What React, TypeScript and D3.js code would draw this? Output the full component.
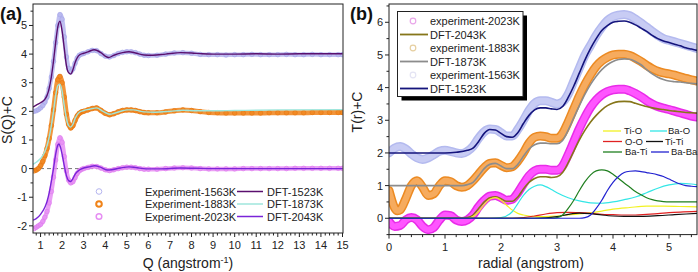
import React from 'react';
import * as d3 from 'd3';

type P = [number, number];

// ---------- Panel (a): S(Q)+C ----------
const qMajor = d3.range(1, 16);
const sMajor = [-2, -1, 0, 1, 2, 3, 4, 5];

const exp1563: P[] = [[0.7,2.0],[0.8,2.02],[0.9,2.06],[1.0,2.12],[1.1,2.2],[1.2,2.32],[1.3,2.5],[1.4,2.8],[1.5,3.2],[1.6,3.75],[1.7,4.4],[1.8,5.0],[1.9,5.38],[2.0,5.22],[2.1,4.6],[2.2,3.9],[2.3,3.5],[2.4,3.38],[2.5,3.48],[2.6,3.68],[2.7,3.86],[2.8,3.96],[2.9,4.0],[3.0,4.02],
[3.2,4.08],[3.4,4.13],[3.6,4.12],[3.8,4.02],[4.0,3.93],[4.2,3.9],[4.4,3.95],[4.6,4.02],[4.8,4.06],[5.0,4.08],[5.2,4.08],[5.4,4.05],[5.6,4.0],[5.8,3.96],[6.0,3.95],
[6.4,3.96],[6.8,4.0],[7.2,4.04],[7.6,4.05],[8.0,4.03],[8.4,3.99],[8.8,3.98],[9.2,3.98],[9.6,3.97],[10.0,3.98],[10.4,3.98],[10.8,3.99],[11.2,3.98],[11.6,3.98],[12.0,3.98],[12.4,3.99],[12.8,3.98],[13.2,3.98],[13.6,3.99],[14.0,3.98],[14.4,3.98],[14.8,3.98],[15.0,3.98]];
const dft1523: P[] = [[0.65,2.15],[0.8,2.22],[1.0,2.3],[1.2,2.42],[1.3,2.55],[1.4,2.8],[1.5,3.2],[1.6,3.75],[1.7,4.4],[1.8,4.95],[1.9,5.15],[2.0,4.8],[2.1,4.2],[2.2,3.6],[2.3,3.35],[2.4,3.3],[2.5,3.45],[2.6,3.7],[2.8,3.97],[3.0,4.03],[3.2,4.08],[3.5,4.15],[3.8,4.05],[4.0,3.93],[4.15,3.88],[4.4,3.96],[4.8,4.05],[5.1,4.08],[5.4,4.04],[5.8,3.97],[6.2,3.96],[6.8,4.0],[7.5,4.05],[8.0,4.04],[8.5,4.01],[9.0,4.0],[10.0,4.0],[11.0,4.01],[12.0,4.0],[13.0,4.01],[14.0,4.01],[15.0,4.01]];

const exp1883: P[] = [[0.7,-0.08],[0.8,-0.05],[0.9,0.0],[1.0,0.1],[1.1,0.25],[1.2,0.45],[1.3,0.7],[1.4,1.05],[1.5,1.5],[1.6,2.05],[1.7,2.65],[1.8,3.1],[1.9,3.22],[2.0,3.0],[2.1,2.5],[2.2,1.9],[2.3,1.55],[2.4,1.42],[2.5,1.5],[2.6,1.68],[2.7,1.84],[2.8,1.93],[2.9,1.98],[3.0,2.0],
[3.2,2.05],[3.4,2.1],[3.6,2.12],[3.8,2.03],[4.0,1.93],[4.2,1.88],[4.4,1.92],[4.6,1.98],[4.8,2.03],[5.0,2.05],[5.2,2.05],[5.4,2.03],[5.6,1.99],[5.8,1.96],[6.0,1.95],
[6.4,1.95],[6.8,1.98],[7.2,2.02],[7.6,2.05],[8.0,2.03],[8.4,1.99],[8.8,1.96],[9.2,1.95],[9.6,1.94],[10.0,1.94],[10.4,1.94],[10.8,1.94],[11.2,1.94],[11.6,1.95],[12.0,1.95],[12.4,1.95],[12.8,1.95],[13.2,1.95],[13.6,1.96],[14.0,1.96],[14.4,1.96],[14.8,1.96],[15.0,1.96]];
const dft1873: P[] = [[0.65,0.15],[0.8,0.22],[1.0,0.35],[1.1,0.45],[1.2,0.6],[1.3,0.8],[1.4,1.1],[1.5,1.5],[1.6,2.0],[1.7,2.55],[1.8,2.9],[1.9,2.95],[2.0,2.7],[2.1,2.2],[2.2,1.75],[2.3,1.5],[2.4,1.45],[2.5,1.55],[2.6,1.75],[2.8,1.97],[3.0,2.03],[3.3,2.08],[3.6,2.12],[3.9,2.0],[4.2,1.9],[4.5,1.95],[5.0,2.05],[5.3,2.05],[5.8,1.98],[6.3,1.97],[7.0,2.0],[7.6,2.04],[8.2,2.02],[9.0,2.02],[10.0,2.03],[12.0,2.05],[15.0,2.06]];

const exp2023: P[] = [[0.7,-2.1],[0.8,-2.05],[0.9,-2.0],[1.0,-1.95],[1.1,-1.85],[1.2,-1.7],[1.3,-1.5],[1.4,-1.2],[1.5,-0.8],[1.6,-0.3],[1.7,0.3],[1.8,0.85],[1.9,1.08],[2.0,0.92],[2.1,0.42],[2.2,-0.08],[2.3,-0.4],[2.4,-0.5],[2.5,-0.46],[2.6,-0.32],[2.7,-0.17],[2.8,-0.08],[2.9,-0.03],[3.0,0.0],
[3.2,0.04],[3.4,0.08],[3.6,0.07],[3.8,0.02],[4.0,-0.04],[4.2,-0.07],[4.4,-0.04],[4.6,0.0],[4.8,0.03],[5.0,0.05],[5.2,0.05],[5.4,0.03],[5.6,0.0],[5.8,-0.02],[6.0,-0.02],
[6.4,-0.02],[6.8,0.0],[7.2,0.02],[7.6,0.03],[8.0,0.02],[8.4,0.0],[8.8,-0.01],[9.2,-0.01],[9.6,-0.01],[10.0,-0.01],[10.4,0.0],[10.8,0.0],[11.2,0.0],[11.6,0.0],[12.0,0.0],[12.4,0.0],[12.8,0.01],[13.2,0.01],[13.6,0.01],[14.0,0.01],[14.4,0.01],[14.8,0.01],[15.0,0.01]];
const dft2043: P[] = [[0.65,-1.8],[0.8,-1.75],[1.0,-1.6],[1.2,-1.35],[1.3,-1.15],[1.4,-0.85],[1.5,-0.45],[1.6,0.0],[1.7,0.5],[1.8,0.82],[1.85,0.86],[1.9,0.8],[2.0,0.5],[2.1,0.1],[2.2,-0.25],[2.3,-0.42],[2.4,-0.45],[2.5,-0.35],[2.6,-0.2],[2.8,-0.05],[3.0,0.02],[3.3,0.07],[3.5,0.1],[3.8,0.04],[4.1,-0.05],[4.3,-0.04],[4.7,0.02],[5.1,0.06],[5.4,0.04],[5.9,-0.01],[6.5,-0.01],[7.5,0.02],[8.2,0.01],[9.0,0.0],[15.0,0.0]];

// ---------- Panel (b): T(r)+C ----------
const rMajor = [0, 1, 2, 3, 4, 5];
const tMajor = [0, 1, 2, 3, 4, 5, 6];

const tExp1563: P[] = [[0,2.0],[0.1,2.15],[0.2,2.2],[0.3,2.12],[0.4,1.97],[0.5,1.85],[0.6,1.8],[0.7,1.85],[0.8,1.95],[0.9,2.05],[1.0,2.08],[1.1,2.05],[1.2,2.0],[1.3,1.98],[1.4,2.05],[1.5,2.2],[1.6,2.45],[1.7,2.65],[1.8,2.73],[1.9,2.72],[2.0,2.62],[2.1,2.52],[2.2,2.52],[2.3,2.72],[2.4,3.0],[2.5,3.3],[2.6,3.52],[2.7,3.6],[2.8,3.6],[2.9,3.55],[3.0,3.5],[3.1,3.56],[3.2,3.8],[3.3,4.2],[3.4,4.6],[3.5,5.0],[3.6,5.3],[3.7,5.6],[3.8,5.85],[3.9,6.05],[4.0,6.17],[4.1,6.22],[4.2,6.24],[4.3,6.2],[4.4,6.1],[4.5,5.98],[4.6,5.85],[4.7,5.72],[4.8,5.6],[4.9,5.5],[5.0,5.45],[5.1,5.4],[5.2,5.35],[5.3,5.3],[5.4,5.25],[5.5,5.2]];
const tDft1523: P[] = [[0,2.0],[0.5,2.0],[1.0,2.0],[1.2,2.02],[1.4,2.08],[1.5,2.15],[1.6,2.35],[1.7,2.6],[1.8,2.72],[1.9,2.7],[2.0,2.6],[2.1,2.5],[2.2,2.48],[2.3,2.62],[2.4,2.9],[2.5,3.15],[2.6,3.32],[2.7,3.38],[2.8,3.38],[2.9,3.35],[3.0,3.33],[3.1,3.42],[3.2,3.7],[3.3,4.05],[3.4,4.45],[3.5,4.85],[3.6,5.2],[3.7,5.5],[3.8,5.75],[3.9,5.9],[4.0,6.0],[4.1,6.03],[4.2,6.04],[4.3,6.0],[4.4,5.92],[4.5,5.82],[4.6,5.72],[4.7,5.6],[4.8,5.5],[4.9,5.43],[5.0,5.38],[5.1,5.33],[5.2,5.28],[5.3,5.22],[5.4,5.18],[5.5,5.14]];
const tExp1883: P[] = [[0,0.85],[0.05,0.55],[0.1,0.32],[0.15,0.23],[0.2,0.26],[0.3,0.6],[0.4,1.0],[0.5,1.15],[0.6,0.95],[0.7,0.7],[0.8,0.75],[0.9,1.0],[1.0,1.15],[1.1,1.12],[1.2,1.0],[1.3,0.95],[1.4,1.0],[1.5,1.15],[1.6,1.35],[1.7,1.55],[1.8,1.68],[1.9,1.7],[2.0,1.62],[2.1,1.55],[2.2,1.58],[2.3,1.75],[2.4,2.0],[2.5,2.3],[2.6,2.48],[2.7,2.52],[2.8,2.5],[2.9,2.45],[3.0,2.45],[3.1,2.6],[3.2,2.95],[3.3,3.35],[3.4,3.75],[3.5,4.1],[3.6,4.4],[3.7,4.65],[3.8,4.82],[3.9,4.93],[4.0,5.0],[4.1,5.02],[4.2,5.02],[4.3,4.98],[4.4,4.9],[4.5,4.8],[4.6,4.68],[4.7,4.58],[4.8,4.5],[4.9,4.45],[5.0,4.42],[5.1,4.38],[5.2,4.33],[5.3,4.28],[5.4,4.24],[5.5,4.2]];
const tDft1873: P[] = [[0,1.0],[1.0,1.0],[1.3,1.0],[1.4,1.03],[1.5,1.1],[1.6,1.3],[1.7,1.52],[1.8,1.65],[1.9,1.68],[2.0,1.6],[2.1,1.52],[2.2,1.52],[2.3,1.65],[2.4,1.9],[2.5,2.12],[2.6,2.25],[2.7,2.3],[2.8,2.3],[2.9,2.28],[3.0,2.28],[3.1,2.38],[3.2,2.7],[3.3,3.08],[3.4,3.45],[3.5,3.8],[3.6,4.1],[3.7,4.35],[3.8,4.55],[3.9,4.7],[4.0,4.8],[4.1,4.86],[4.2,4.88],[4.3,4.87],[4.4,4.8],[4.5,4.7],[4.6,4.55],[4.7,4.42],[4.8,4.32],[4.9,4.25],[5.0,4.2],[5.1,4.18],[5.2,4.17],[5.3,4.15],[5.4,4.13],[5.5,4.12]];
const tExp2023: P[] = [[0,-0.1],[0.1,-0.25],[0.2,-0.22],[0.3,-0.05],[0.4,0.02],[0.5,-0.05],[0.6,-0.25],[0.7,-0.35],[0.8,-0.28],[0.9,-0.05],[1.0,0.1],[1.1,0.08],[1.2,-0.05],[1.3,-0.1],[1.4,-0.05],[1.5,0.1],[1.6,0.35],[1.7,0.55],[1.8,0.68],[1.9,0.7],[2.0,0.63],[2.1,0.55],[2.2,0.58],[2.3,0.78],[2.4,1.05],[2.5,1.3],[2.6,1.45],[2.7,1.5],[2.8,1.5],[2.9,1.47],[3.0,1.47],[3.1,1.6],[3.2,1.95],[3.3,2.35],[3.4,2.75],[3.5,3.1],[3.6,3.4],[3.7,3.62],[3.8,3.78],[3.9,3.88],[4.0,3.93],[4.1,3.95],[4.2,3.95],[4.3,3.9],[4.4,3.82],[4.5,3.72],[4.6,3.6],[4.7,3.5],[4.8,3.42],[4.9,3.37],[5.0,3.33],[5.1,3.28],[5.2,3.23],[5.3,3.18],[5.4,3.13],[5.5,3.1]];
const tDft2043: P[] = [[0,0.0],[1.3,0.0],[1.4,0.02],[1.5,0.1],[1.6,0.3],[1.7,0.5],[1.8,0.63],[1.9,0.66],[2.0,0.6],[2.1,0.52],[2.2,0.52],[2.3,0.65],[2.4,0.9],[2.5,1.1],[2.6,1.22],[2.7,1.27],[2.8,1.27],[2.9,1.25],[3.0,1.27],[3.1,1.4],[3.2,1.7],[3.3,2.05],[3.4,2.4],[3.5,2.7],[3.6,2.95],[3.7,3.15],[3.8,3.32],[3.9,3.45],[4.0,3.53],[4.1,3.57],[4.2,3.58],[4.3,3.57],[4.4,3.52],[4.5,3.47],[4.6,3.42],[4.7,3.38],[4.8,3.35],[4.9,3.33],[5.0,3.3],[5.1,3.28],[5.2,3.26],[5.3,3.24],[5.4,3.23],[5.5,3.22]];

const pTiO: P[] = [[0,0],[1.4,0],[1.5,0.05],[1.6,0.2],[1.7,0.42],[1.8,0.58],[1.9,0.63],[2.0,0.55],[2.1,0.4],[2.2,0.25],[2.3,0.15],[2.4,0.1],[2.5,0.07],[2.6,0.06],[2.8,0.05],[3.0,0.07],[3.2,0.1],[3.5,0.15],[3.8,0.22],[4.0,0.28],[4.3,0.33],[4.6,0.37],[4.9,0.37],[5.2,0.36],[5.5,0.35]];
const pBaO: P[] = [[0,0],[1.8,0],[2.0,0.02],[2.2,0.2],[2.3,0.45],[2.4,0.7],[2.5,0.88],[2.6,0.98],[2.7,1.02],[2.8,0.97],[2.9,0.88],[3.0,0.78],[3.2,0.63],[3.4,0.53],[3.6,0.47],[3.8,0.46],[4.0,0.5],[4.2,0.57],[4.4,0.65],[4.6,0.78],[4.8,0.92],[5.0,1.02],[5.2,1.07],[5.4,1.05],[5.5,1.02]];
const pOO: P[] = [[0,0],[2.2,0],[2.4,0.02],[2.6,0.07],[2.8,0.13],[3.0,0.17],[3.2,0.18],[3.4,0.17],[3.6,0.15],[3.8,0.12],[4.0,0.11],[4.2,0.1],[4.4,0.1],[4.6,0.12],[4.8,0.14],[5.0,0.17],[5.2,0.19],[5.5,0.21]];
const pTiTi: P[] = [[0,0],[2.6,0],[2.8,0.01],[3.0,0.05],[3.2,0.12],[3.4,0.16],[3.6,0.14],[3.8,0.1],[4.0,0.07],[4.2,0.06],[4.5,0.06],[4.8,0.08],[5.1,0.11],[5.5,0.15]];
const pBaTi: P[] = [[0,0],[2.9,0],[3.0,0.02],[3.1,0.1],[3.2,0.3],[3.3,0.55],[3.4,0.85],[3.5,1.12],[3.6,1.33],[3.7,1.45],[3.8,1.48],[3.9,1.45],[4.0,1.35],[4.1,1.22],[4.2,1.08],[4.3,0.95],[4.4,0.82],[4.5,0.72],[4.6,0.63],[4.7,0.57],[4.8,0.53],[4.9,0.51],[5.0,0.5],[5.2,0.5],[5.5,0.5]];
const pBaBa: P[] = [[0,0],[3.4,0],[3.5,0.02],[3.6,0.1],[3.7,0.3],[3.8,0.55],[3.9,0.85],[4.0,1.1],[4.1,1.28],[4.2,1.4],[4.3,1.44],[4.4,1.45],[4.5,1.43],[4.6,1.4],[4.7,1.37],[4.8,1.33],[4.9,1.28],[5.0,1.2],[5.1,1.12],[5.2,1.05],[5.3,1.0],[5.4,0.98],[5.5,0.97]];

const FONT = "'Liberation Sans', Arial, sans-serif";

function App() {
  const ax = d3.scaleLinear().domain([0.65, 15]).range([33, 342.5]);
  const ay = d3.scaleLinear().domain([-2.25, 5.75]).range([233, 4]);
  const bx = d3.scaleLinear().domain([0, 5.5]).range([389, 697]);
  const by = d3.scaleLinear().domain([-0.5, 6.56]).range([234.6, 4]);

  const lineA = d3.line<P>().x(d => ax(d[0])).y(d => ay(d[1])).curve(d3.curveMonotoneX);
  const lineB = d3.line<P>().x(d => bx(d[0])).y(d => by(d[1])).curve(d3.curveMonotoneX);

  const aBottom = ay.range()[0];
  const bBottom = by.range()[0];

  const qMinor = d3.range(0.8, 15.01, 0.2).filter(v => Math.abs(v - Math.round(v)) > 0.01);
  const sMinor = d3.range(-2, 5.6, 0.5).filter(v => Math.abs(v - Math.round(v)) > 0.01);
  const rMinor = d3.range(0.2, 5.5, 0.2).filter(v => Math.abs(v - Math.round(v)) > 0.01);
  const tMinor = d3.range(-0.5, 6.6, 0.5).filter(v => Math.abs(v - Math.round(v)) > 0.01);

  const expA = [
    { d: exp1563, c: '#b5b5ef', e: '#a4a4ea', w: 4.5 },
    { d: exp1883, c: '#f08318', e: '#e67510', w: 5 },
    { d: exp2023, c: '#e68ef3', e: '#de7cef', w: 4.5 },
  ];
  const dftA = [
    { d: dft1523, c: '#5a0f6e' },
    { d: dft1873, c: '#9fe6dc' },
    { d: dft2043, c: '#7a24d8' },
  ];

  const legA = [
    { t1: 'Experiment-1563K', c1: '#b5b5ef', t2: 'DFT-1523K', c2: '#5a0f6e', sw: 1 },
    { t1: 'Experiment-1883K', c1: '#f08318', t2: 'DFT-1873K', c2: '#9fe6dc', sw: 2 },
    { t1: 'Experiment-2023K', c1: '#e68ef3', t2: 'DFT-2043K', c2: '#7a24d8', sw: 1.5 },
  ];

  const bandsB = [
    { d: tExp1563, edge: '#b4baef', fill: '#c8ccf4' },
    { d: tExp1883, edge: '#ec8a22', fill: '#f6ab5e' },
    { d: tExp2023, edge: '#e82ce8', fill: '#ff55ff' },
  ];
  const dftB = [
    { d: tDft1523, c: '#14147c' },
    { d: tDft1873, c: '#8c8c8c' },
    { d: tDft2043, c: '#86761a' },
  ];
  const partials = [
    { d: pTiO, c: '#f2f222', n: 'Ti-O' },
    { d: pBaO, c: '#33e6e6', n: 'Ba-O' },
    { d: pOO, c: '#e02222', n: 'O-O' },
    { d: pTiTi, c: '#111111', n: 'Ti-Ti' },
    { d: pBaTi, c: '#1f7f1f', n: 'Ba-Ti' },
    { d: pBaBa, c: '#2222d0', n: 'Ba-Ba' },
  ];
  const partLeg = [
    { x1: 603, x2: 621, tx: 624, y: 131, p: 0 },
    { x1: 650, x2: 667, tx: 668, y: 131, p: 1 },
    { x1: 603, x2: 622, tx: 625, y: 141.5, p: 2 },
    { x1: 646, x2: 663, tx: 665, y: 141.5, p: 3 },
    { x1: 603, x2: 622, tx: 625, y: 152, p: 4 },
    { x1: 651, x2: 669, tx: 671, y: 152, p: 5 },
  ];
  const legB = [
    { t: 'experiment-2023K', kind: 'c', c: '#e9a6e9' },
    { t: 'DFT-2043K', kind: 'l', c: '#86761a' },
    { t: 'experiment-1883K', kind: 'c', c: '#e6cfa0' },
    { t: 'DFT-1873K', kind: 'l', c: '#8c8c8c' },
    { t: 'experiment-1563K', kind: 'c', c: '#e4e4f4' },
    { t: 'DFT-1523K', kind: 'l', c: '#14147c' },
  ];

  return (
    <svg width={698} height={272} style={{ position: 'absolute', left: 0, top: 0, background: '#fff' }} fontFamily={FONT}>
      <rect x={0} y={0} width={698} height={272} fill="#fff" />
      {/* ================= Panel a ================= */}
      <clipPath id="clipA"><rect x={33} y={4} width={310} height={229} /></clipPath>
      <g clipPath="url(#clipA)">
        <line x1={33} x2={343} y1={ay(0)} y2={ay(0)} stroke="#777" strokeDasharray="4,3" strokeWidth={1} />
        {expA.map((s, i) => (
          <g key={i}>
            <path d={lineA(s.d) || ''} fill="none" stroke={s.c} strokeWidth={s.w} strokeOpacity={0.85} />
            {s.d.map((p, j) => (
              <circle key={j} cx={ax(p[0])} cy={ay(p[1])} r={2.3} fill={s.c} fillOpacity={0.6} stroke={s.e} strokeWidth={0.6} />
            ))}
          </g>
        ))}
        {dftA.map((s, i) => (
          <path key={i} d={lineA(s.d) || ''} fill="none" stroke={s.c} strokeWidth={1.4} />
        ))}
      </g>
      <rect x={33} y={4} width={310} height={aBottom - 4} fill="none" stroke="#222" strokeWidth={1} />
      {qMajor.map(v => (
        <g key={v}>
          <line x1={ax(v)} x2={ax(v)} y1={aBottom} y2={aBottom + 4} stroke="#222" />
          <text x={ax(v)} y={249} fontSize={11} textAnchor="middle" fill="#222">{v}</text>
        </g>
      ))}
      {qMinor.map((v, i) => (
        <line key={i} x1={ax(v)} x2={ax(v)} y1={aBottom} y2={aBottom + 2.5} stroke="#222" />
      ))}
      {sMajor.map(v => (
        <g key={v}>
          <line x1={33} x2={29} y1={ay(v)} y2={ay(v)} stroke="#222" />
          <text x={27} y={ay(v) + 4} fontSize={11} textAnchor="end" fill="#222">{String(v)}</text>
        </g>
      ))}
      {sMinor.map((v, i) => (
        <line key={i} x1={33} x2={30.5} y1={ay(v)} y2={ay(v)} stroke="#222" />
      ))}
      <text x={188} y={268} fontSize={14} textAnchor="middle" fill="#222">
        Q (angstrom<tspan dy={-5} fontSize={9}>-1</tspan><tspan dy={5}>)</tspan>
      </text>
      <text transform={`translate(12,120) rotate(-90)`} fontSize={14} textAnchor="middle" fill="#222">S(Q)+C</text>
      <text x={0} y={20} fontSize={18} fontWeight="bold" fill="#111">(a)</text>
      {legA.map((l, i) => {
        const y = 191.5 + i * 12.5;
        return (
          <g key={i}>
            <circle cx={99} cy={y} r={2.8} fill="none" stroke={l.c1} strokeWidth={l.sw} />
            <text x={145} y={y + 4} fontSize={11} fill="#222">{l.t1}</text>
            <line x1={237} x2={263} y1={y} y2={y} stroke={l.c2} strokeWidth={1.5} />
            <text x={267} y={y + 4} fontSize={11} fill="#222">{l.t2}</text>
          </g>
        );
      })}

      {/* ================= Panel b ================= */}
      <clipPath id="clipB"><rect x={389} y={4} width={308} height={bBottom - 4} /></clipPath>
      <g clipPath="url(#clipB)">
        {bandsB.map((s, i) => (
          <g key={i}>
            <path d={lineB(s.d) || ''} fill="none" stroke={s.edge} strokeWidth={9} strokeLinecap="round" />
            <path d={lineB(s.d) || ''} fill="none" stroke={s.fill} strokeWidth={6} strokeLinecap="round" />
          </g>
        ))}
        {dftB.map((s, i) => (
          <path key={i} d={lineB(s.d) || ''} fill="none" stroke={s.c} strokeWidth={1.6} />
        ))}
        {partials.map((s, i) => (
          <path key={i} d={lineB(s.d) || ''} fill="none" stroke={s.c} strokeWidth={1.2} />
        ))}
      </g>
      <rect x={389} y={4} width={308} height={bBottom - 4} fill="none" stroke="#222" strokeWidth={1} />
      {rMajor.map(v => (
        <g key={v}>
          <line x1={bx(v)} x2={bx(v)} y1={bBottom} y2={bBottom + 4} stroke="#222" />
          <text x={bx(v)} y={251} fontSize={11} textAnchor="middle" fill="#222">{v}</text>
        </g>
      ))}
      {rMinor.map((v, i) => (
        <line key={i} x1={bx(v)} x2={bx(v)} y1={bBottom} y2={bBottom + 2.5} stroke="#222" />
      ))}
      {tMajor.map(v => (
        <g key={v}>
          <line x1={389} x2={385} y1={by(v)} y2={by(v)} stroke="#222" />
          <text x={383} y={by(v) + 4} fontSize={11} textAnchor="end" fill="#222">{v}</text>
        </g>
      ))}
      {tMinor.map((v, i) => (
        <line key={i} x1={389} x2={386.5} y1={by(v)} y2={by(v)} stroke="#222" />
      ))}
      <text x={531} y={268} fontSize={14} textAnchor="middle" fill="#222">radial (angstrom)</text>
      <text transform={`translate(362,112) rotate(-90)`} fontSize={14} textAnchor="middle" fill="#222">T(r)+C</text>
      <text x={350} y={20} fontSize={18} fontWeight="bold" fill="#111">(b)</text>
      <rect x={401.5} y={15.5} width={125.5} height={85} fill="#000" />
      <rect x={397.5} y={11.5} width={125.5} height={85} fill="#fff" stroke="#222" strokeWidth={1} />
      {legB.map((l, i) => {
        const y = 21 + i * 13.5;
        return (
          <g key={i}>
            {l.kind === 'c'
              ? <circle cx={413} cy={y} r={2.8} fill="none" stroke={l.c} strokeWidth={1.2} />
              : <line x1={400} x2={428} y1={y} y2={y} stroke={l.c} strokeWidth={1.8} />}
            <text x={430} y={y + 4} fontSize={11} fill="#222">{l.t}</text>
          </g>
        );
      })}
      {partLeg.map((l, i) => (
        <g key={i}>
          <line x1={l.x1} x2={l.x2} y1={l.y} y2={l.y} stroke={partials[l.p].c} strokeWidth={1.3} />
          <text x={l.tx} y={l.y + 3.3} fontSize={9.5} fill="#222">{partials[l.p].n}</text>
        </g>
      ))}
    </svg>
  );
}

export default App;
